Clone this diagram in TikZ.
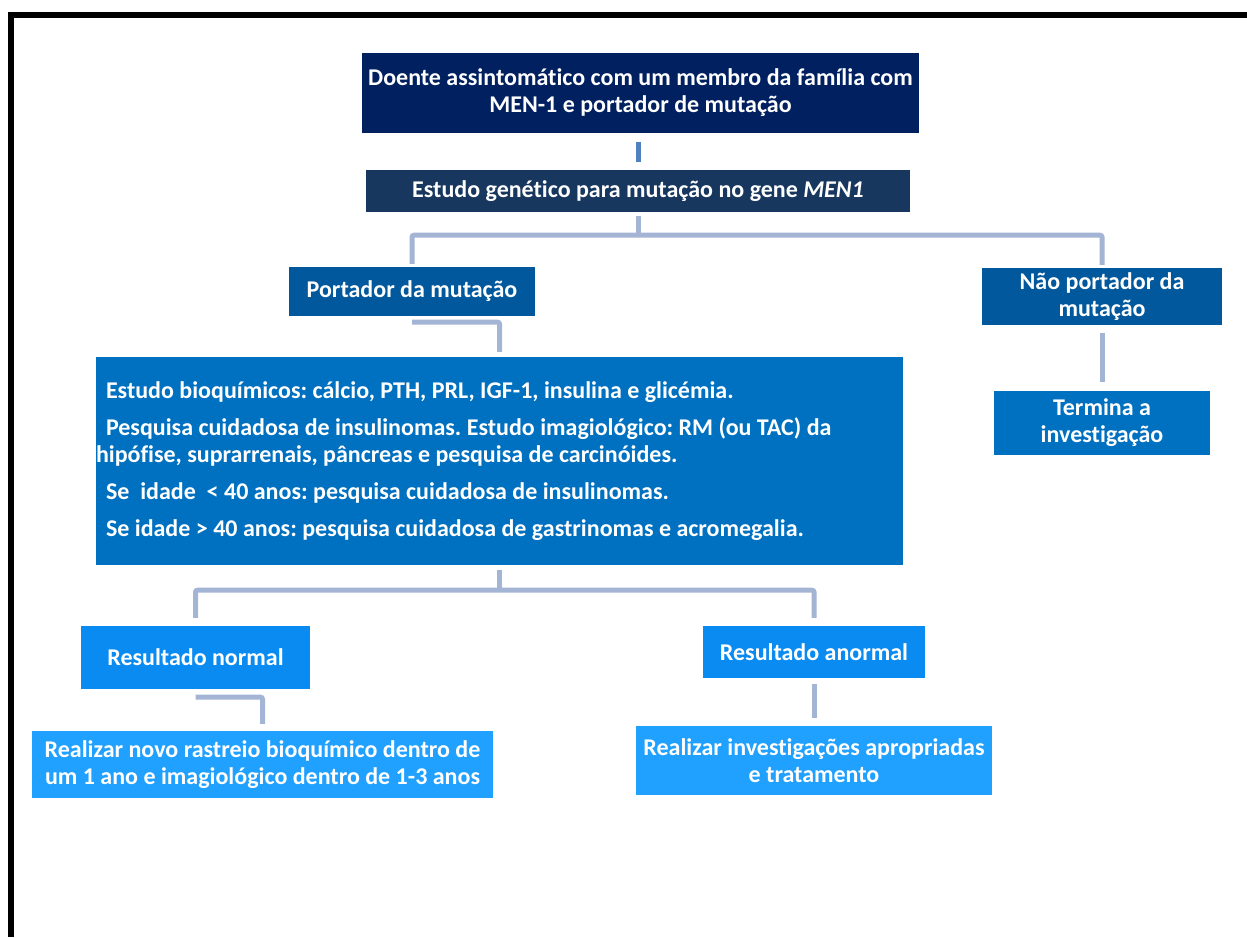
\documentclass[tikz,border=0pt]{standalone}
\usepackage{fontspec}
\setmainfont[Ligatures={NoCommon}]{Carlito}
\frenchspacing
\definecolor{navy}{HTML}{002060}
\definecolor{slate}{HTML}{17375E}
\definecolor{mid}{HTML}{02589C}
\definecolor{blu}{HTML}{0070C0}
\definecolor{sky}{HTML}{0A8BF2}
\definecolor{lig}{HTML}{20A0FF}
\definecolor{lnk}{HTML}{A3B4D4}
\definecolor{lnktop}{HTML}{4F81BD}
\tikzset{bx/.style = {rectangle, inner sep=0pt, text=white, align=center,
                      font=\fontsize{24}{27}\selectfont\bfseries\frenchspacing},
         ln/.style = {line width=5pt, draw=lnk, rounded corners=2pt}}

\begin{document}
\begin{tikzpicture}[x=1pt, y=-1pt]
    \useasboundingbox (0,0) rectangle (1247,937);
    \draw[line width=6pt] (8,15) -- (1247,15);
    \draw[line width=6pt] (11,12) -- (11,937);
    \node[bx, fill=navy, minimum width=557pt, minimum height=80pt] (doe) at (640.5,93) {Doente assintomático com um membro da família com\\MEN-1 e portador de mutação};
    \node[bx, fill=slate, minimum width=544pt, minimum height=42pt] (gen) at (638,191) {Estudo genético para mutação no gene \textit{MEN1}};
    \node[bx, fill=mid, minimum width=246pt, minimum height=49pt] (port) at (412,291.5) {Portador da mutação};
    \node[bx, fill=mid, minimum width=240pt, minimum height=57pt] (nport) at (1102,296.5) {Não portador da\\mutação};
    \node[bx, fill=blu, minimum width=807pt, minimum height=208pt, text width=807pt, align=flush left] (est) at (499.5,461)
      {\hspace*{10pt}Estudo bioquímicos: cálcio, PTH, PRL, IGF-1, insulina e glicémia.\\[10pt]
       \hspace*{10pt}Pesquisa cuidadosa de insulinomas. Estudo imagiológico: RM (ou TAC) da\\
       hipófise, suprarrenais, pâncreas e pesquisa de carcinóides.\\[10pt]
       \hspace*{10pt}Se~ idade~ < 40 anos: pesquisa cuidadosa de insulinomas.\\[10pt]
       \hspace*{10pt}Se idade > 40 anos: pesquisa cuidadosa de gastrinomas e acromegalia.};
    \node[bx, fill=blu, minimum width=216pt, minimum height=64pt] (term) at (1102,423) {Termina a\\investigação};
    \node[bx, fill=sky, minimum width=229pt, minimum height=63pt] (rnorm) at (195.5,657.5) {Resultado normal};
    \node[bx, fill=sky, minimum width=222pt, minimum height=52pt] (ranorm) at (814,652) {Resultado anormal};
    \node[bx, fill=lig, minimum width=461pt, minimum height=67pt] (rnovo) at (262.5,764.5) {Realizar novo rastreio bioquímico dentro de\\um 1 ano e imagiológico dentro de 1-3 anos};
    \node[bx, fill=lig, minimum width=356pt, minimum height=69pt] (rinv) at (814,760.5) {Realizar investigações apropriadas\\e tratamento};
    % connectors
    \draw[ln, draw=lnktop] ([yshift=8pt]gen.north) -- ++(0,-20);
    \draw[ln] ([yshift=-4pt]gen.south) -- ++(0,19) coordinate (j1);
    \draw[ln] ([yshift=3pt]port.north) |- (j1) -| ([yshift=3pt]nport.north);
    \draw[ln] ([yshift=-6pt]port.south) -| ([yshift=5pt]est.north);
    \draw[ln] ([yshift=-8pt]nport.south) -- ([yshift=9pt]term.north);
    \draw[ln] ([yshift=-5pt]est.south) -- ++(0,20) coordinate (j2);
    \draw[ln] ([yshift=8pt]rnorm.north) |- (j2) -| ([yshift=8pt]ranorm.north);
    \draw[ln] ([yshift=-8pt]rnorm.south) -| ([yshift=7pt]rnovo.north);
    \draw[ln] ([yshift=-6pt]ranorm.south) -- ([yshift=8pt]rinv.north);
\end{tikzpicture}
\end{document}
